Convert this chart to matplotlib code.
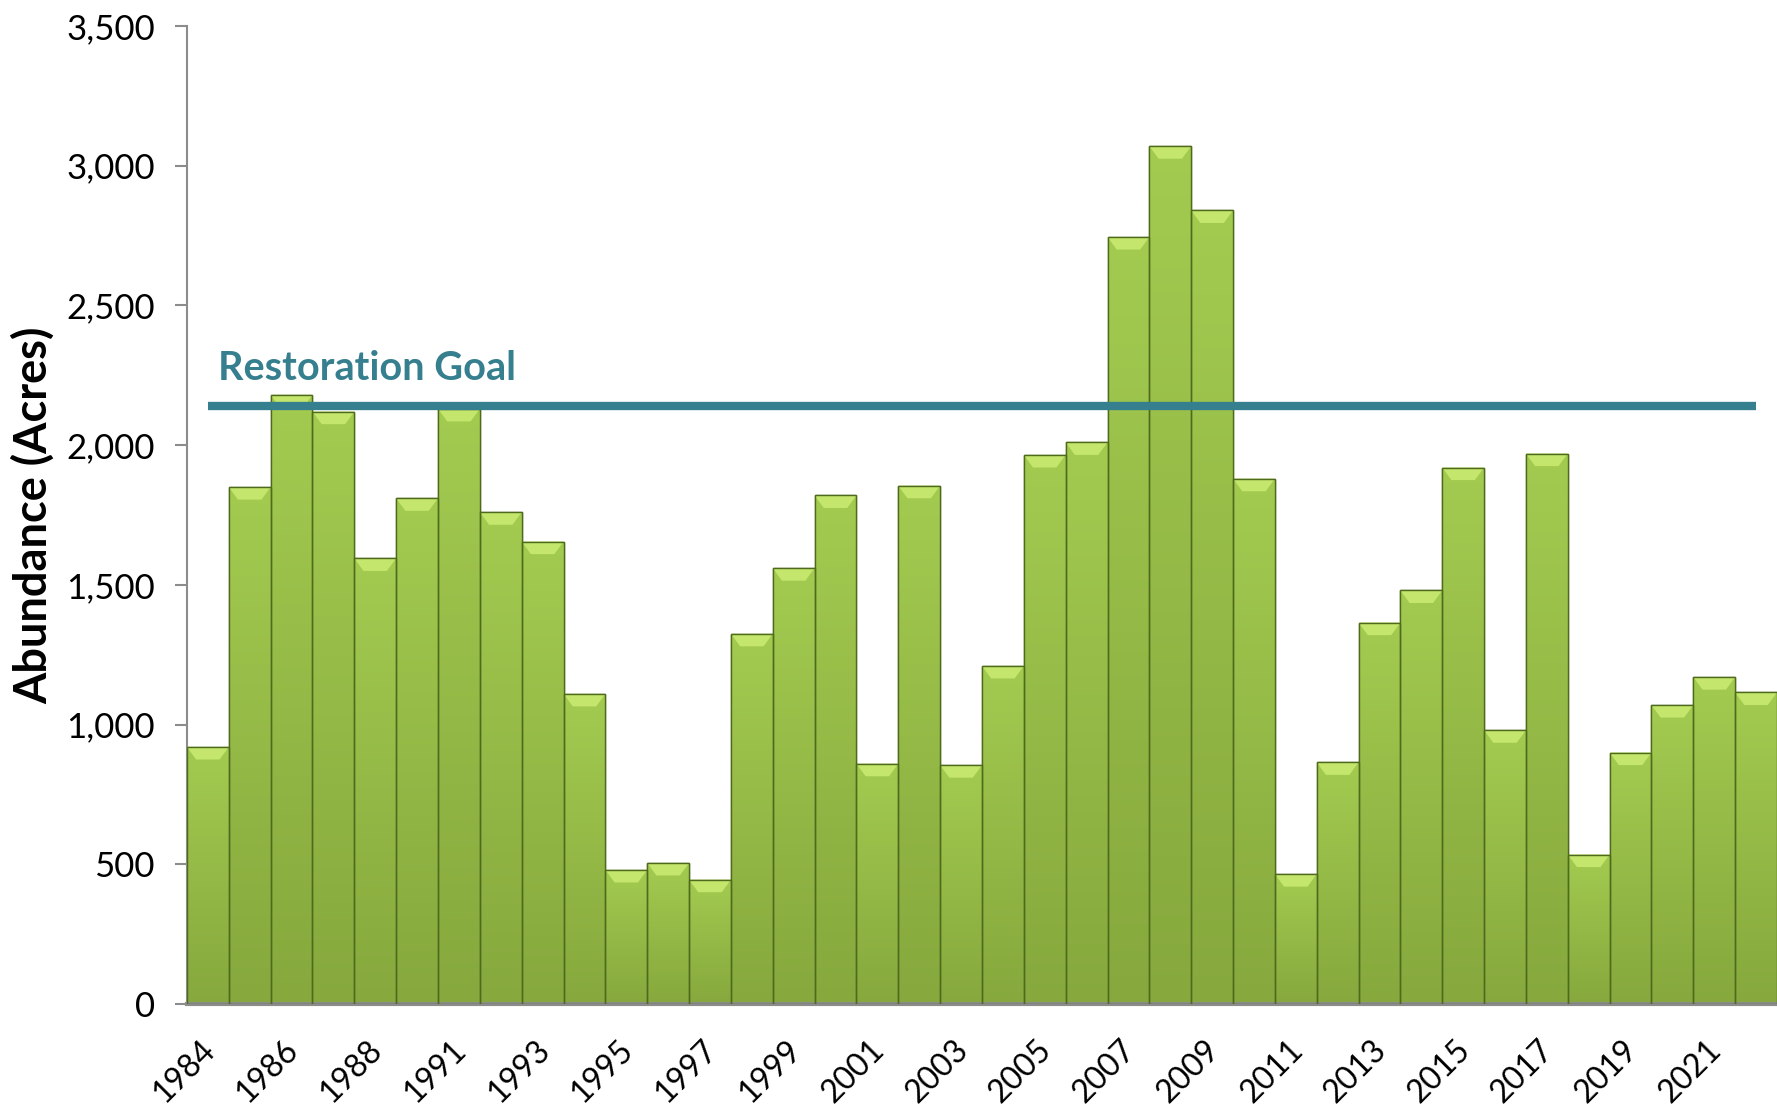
import numpy as np
import matplotlib.pyplot as plt
import matplotlib.transforms as mtransforms
from matplotlib.patches import Polygon

# Data
years = ["1984", "1985", "1986", "1987", "1988", "1989", "1991", "1992", "1993",
         "1994", "1995", "1996", "1997", "1998", "1999", "2000", "2001", "2002",
         "2003", "2004", "2005", "2006", "2007", "2008", "2009", "2010", "2011",
         "2012", "2013", "2014", "2015", "2016", "2017", "2018", "2019", "2020",
         "2021", "2022"]
acres = [920, 1850, 2180, 2120, 1595, 1810, 2130, 1760, 1655, 1110, 480, 505,
         445, 1325, 1560, 1820, 860, 1855, 855, 1210, 1965, 2010, 2745, 3070,
         2840, 1880, 465, 865, 1365, 1480, 1920, 980, 1970, 535, 900, 1070,
         1170, 1115]
goal = 2140
goal_label = "Restoration Goal"

plt.rcParams["font.family"] = ["Lato", "DejaVu Sans"]

fig = plt.figure(figsize=(17.77, 11.11), dpi=100)
ax = fig.add_axes([0.1052, 0.0963, 0.8948, 0.8803])

x = np.arange(len(years))
w = 1.0
bars = ax.bar(x, acres, width=w, color="#93b948", edgecolor="#4e6a1c",
              linewidth=1.0, zorder=2)

# vertical gradient inside every bar
grad = np.linspace(0, 1, 256).reshape(-1, 1)
cmap = plt.matplotlib.colors.LinearSegmentedColormap.from_list(
    "g", ["#86a83d", "#a3cb50"])
for b in bars:
    im = ax.imshow(grad, extent=(b.get_x(), b.get_x() + b.get_width(), 0, b.get_height()),
                   origin="lower", cmap=cmap, aspect="auto", zorder=2)
    im.set_clip_path(b)

# bevel at the top of every bar
bev = 45
for xi, v in zip(x, acres):
    poly = Polygon([(xi - w / 2, v), (xi + w / 2, v), (xi + w / 2 - 0.22, v - bev),
                    (xi - w / 2 + 0.22, v - bev)], closed=True,
                   facecolor="#c4e66c", edgecolor="none", zorder=3)
    ax.add_patch(poly)
# redraw edges on top
ax.bar(x, acres, width=w, color="none", edgecolor="#4e6a1c", linewidth=1.0, zorder=4)

# goal line
ax.plot([x[0], x[-1]], [goal, goal], color="#367f8e", linewidth=6, zorder=5,
        solid_capstyle="butt")
ax.text(x[0] + 0.25, goal + 68, goal_label, color="#367f8e", fontsize=28.5,
        fontweight="bold", ha="left", va="bottom", zorder=6)

ax.set_xlim(-0.5, len(years) - 0.5)
ax.set_ylim(0, 3500)
ax.set_yticks(np.arange(0, 3501, 500))
ax.set_yticklabels([f"{v:,}" for v in range(0, 3501, 500)], fontsize=25)
ax.set_xticks(x[::2])
ax.set_xticklabels(years[::2], rotation=45, ha="right", rotation_mode="anchor",
                   fontsize=23)
ax.tick_params(axis="x", length=0, pad=22)
# nudge the rotated year labels a little to the left
shift = mtransforms.ScaledTranslation(-6 / 72, 0, fig.dpi_scale_trans)
for lab in ax.get_xticklabels():
    lab.set_transform(lab.get_transform() + shift)
ax.tick_params(axis="y", length=9, width=1.5, color="#8c8c8c", pad=14)
ax.set_ylabel("Abundance (Acres)", fontsize=32.5, fontweight="bold", labelpad=8)

for s in ["top", "right"]:
    ax.spines[s].set_visible(False)
ax.spines["left"].set_color("#8c8c8c")
ax.spines["left"].set_linewidth(1.5)
ax.spines["bottom"].set_color("#8c8c8c")
ax.spines["bottom"].set_linewidth(3)

fig.savefig("out.png", dpi=100)
